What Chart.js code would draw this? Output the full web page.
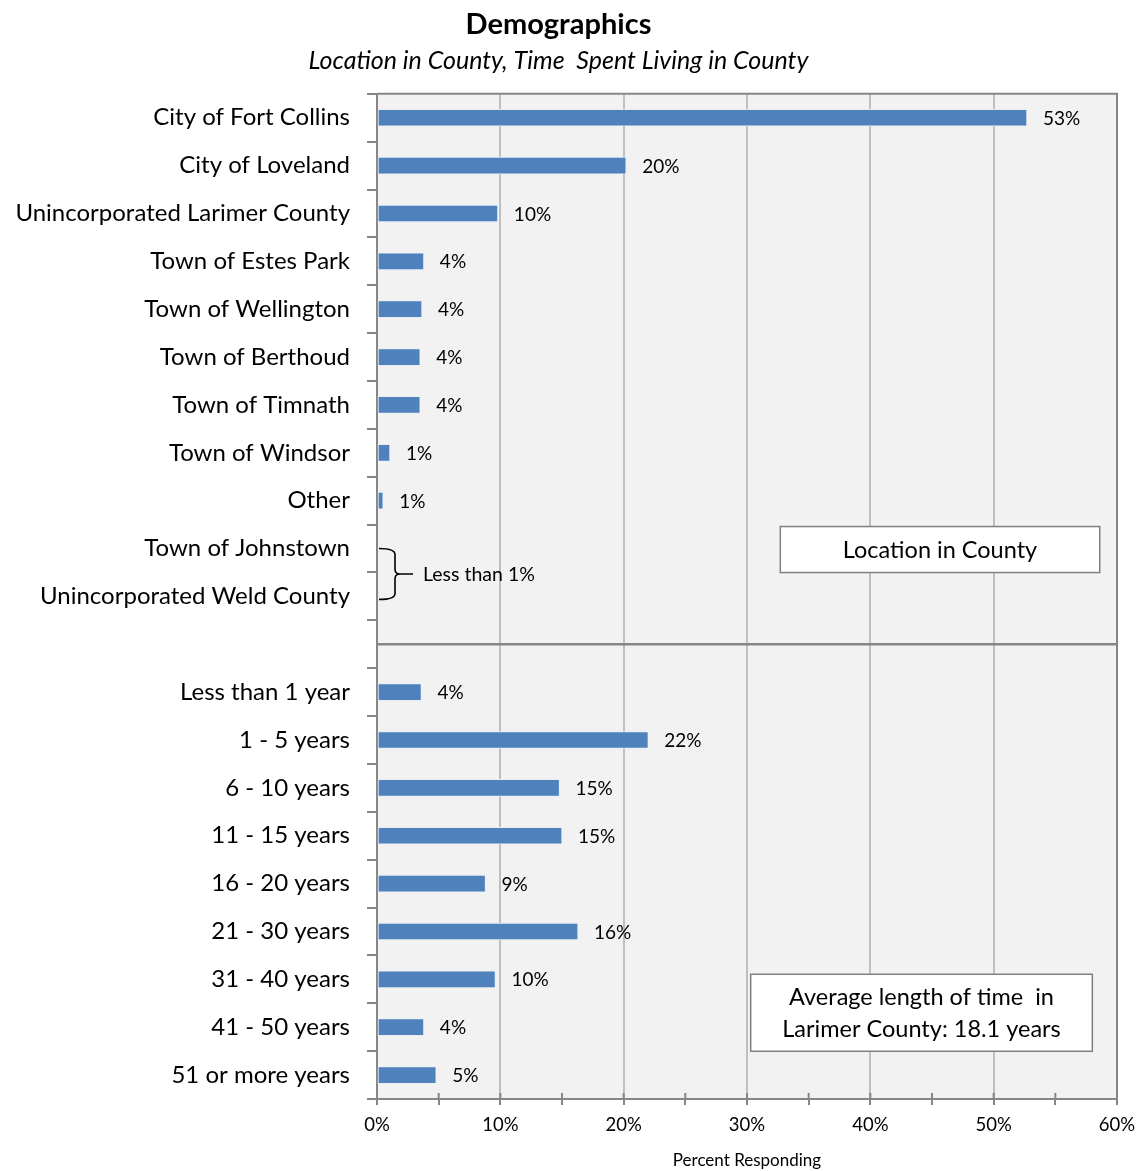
<!DOCTYPE html>
<html>
<head>
<meta charset="utf-8">
<script src="https://cdn.jsdelivr.net/npm/chart.js@4"></script>
<style>
  html, body { margin: 0; padding: 0; background: #fff; }
  #wrap { width: 1147px; height: 1171px; }
</style>
</head>
<body>
<div id="wrap"><canvas id="chart"></canvas></div>
<script>
const locations = ['City of Fort Collins', 'City of Loveland', 'Unincorporated Larimer County',
  'Town of Estes Park', 'Town of Wellington', 'Town of Berthoud', 'Town of Timnath',
  'Town of Windsor', 'Other', 'Town of Johnstown', 'Unincorporated Weld County'];
const locationValues = [52.7, 20.2, 9.8, 3.8, 3.65, 3.5, 3.5, 1.05, 0.5, null, null];

const durations = ['Less than 1 year', '1 - 5 years', '6 - 10 years', '11 - 15 years',
  '16 - 20 years', '21 - 30 years', '31 - 40 years', '41 - 50 years', '51 or more years'];
const durationValues = [3.6, 22.0, 14.8, 15.0, 8.8, 16.3, 9.6, 3.8, 4.8];

const xTickValues = [0, 10, 20, 30, 40, 50, 60];

// one blank row between the two groups
const labels = [...locations, '', ...durations];
const values = [...locationValues, null, ...durationValues];
const gapIndex = locations.length;

const FONT = 'Lato, "Open Sans", sans-serif';
const AXIS = '#868686';

const decorations = {
  id: 'decorations',
  beforeDraw(chart) {
    const { ctx, chartArea: a } = chart;
    ctx.save();
    ctx.fillStyle = '#f2f2f2';
    ctx.fillRect(a.left, a.top, a.right - a.left, a.bottom - a.top);
    ctx.restore();
  },
  afterDatasetsDraw(chart) {
    const { ctx } = chart;
    const meta = chart.getDatasetMeta(0);
    ctx.save();
    ctx.font = '19px ' + FONT;
    ctx.fillStyle = '#000';
    ctx.textAlign = 'left';
    ctx.textBaseline = 'middle';
    meta.data.forEach((bar, i) => {
      const v = values[i];
      if (v == null) return;
      ctx.fillText(Math.round(v) + '%', bar.x + 16, bar.y + 1);
    });
    ctx.restore();
  },
  afterDraw(chart) {
    const { ctx, chartArea: a } = chart;
    const xs = chart.scales.x, ys = chart.scales.y;
    ctx.save();

    // top + right frame
    ctx.strokeStyle = AXIS;
    ctx.lineWidth = 2;
    ctx.beginPath();
    ctx.moveTo(a.left, a.top);
    ctx.lineTo(a.right, a.top);
    ctx.lineTo(a.right, a.bottom);
    ctx.stroke();

    // separator in the blank row
    const sy = ys.getPixelForValue(gapIndex);
    ctx.lineWidth = 2.5;
    ctx.beginPath();
    ctx.moveTo(a.left, sy);
    ctx.lineTo(a.right, sy);
    ctx.stroke();

    // inner part of x ticks
    ctx.lineWidth = 2;
    xs.ticks.forEach(t => {
      const px = xs.getPixelForValue(t.value);
      ctx.beginPath();
      ctx.moveTo(px, a.bottom - 6);
      ctx.lineTo(px, a.bottom);
      ctx.stroke();
    });

    // bracket for the rows with less than 1%
    const small = locationValues.map((v, i) => v == null ? i : -1).filter(i => i >= 0);
    const top = ys.getPixelForValue(small[0]);
    const bot = ys.getPixelForValue(small[small.length - 1]) + 3;
    const mid = (top + bot) / 2;
    const x0 = a.left + 2, x1 = x0 + 16, x2 = x0 + 21;
    ctx.strokeStyle = '#000';
    ctx.lineWidth = 1.6;
    ctx.beginPath();
    ctx.moveTo(x0, top);
    ctx.quadraticCurveTo(x1, top, x1, top + 6);
    ctx.lineTo(x1, mid - 5);
    ctx.quadraticCurveTo(x1, mid, x2, mid);
    ctx.quadraticCurveTo(x1, mid, x1, mid + 5);
    ctx.lineTo(x1, bot - 6);
    ctx.quadraticCurveTo(x1, bot, x0, bot);
    ctx.moveTo(x2, mid);
    ctx.lineTo(x0 + 34, mid);
    ctx.stroke();
    ctx.fillStyle = '#000';
    ctx.font = '19.5px ' + FONT;
    ctx.textAlign = 'left';
    ctx.textBaseline = 'middle';
    ctx.fillText('Less than 1%', x0 + 44, mid + 1);

    // text boxes
    function box(v0, v1, cy, h, lines) {
      const l = xs.getPixelForValue(v0), r = xs.getPixelForValue(v1);
      ctx.fillStyle = '#fff';
      ctx.fillRect(l, cy - h / 2, r - l, h);
      ctx.strokeStyle = '#808080';
      ctx.lineWidth = 1.5;
      ctx.strokeRect(l, cy - h / 2, r - l, h);
      ctx.fillStyle = '#000';
      ctx.font = '23.5px ' + FONT;
      ctx.textAlign = 'center';
      ctx.textBaseline = 'middle';
      const lh = 32;
      lines.forEach((s, k) => {
        ctx.fillText(s, (l + r) / 2, cy + 1 + (k - (lines.length - 1) / 2) * lh);
      });
    }
    box(32.7, 58.6, ys.getPixelForValue(small[0]) + 1, 46, ['Location in County']);
    const last = labels.length - 1;
    const by = (ys.getPixelForValue(last - 2) + ys.getPixelForValue(last - 1)) / 2 + 9.5;
    box(30.3, 58.0, by, 77, ['Average length of time  in', 'Larimer County: 18.1 years']);

    ctx.restore();
  }
};

new Chart(document.getElementById('chart'), {
  type: 'bar',
  data: {
    labels: labels,
    datasets: [{
      data: values,
      backgroundColor: '#4f81bd',
      borderColor: '#e9eef6',
      borderWidth: 1,
      borderSkipped: false,
      barThickness: 17
    }]
  },
  options: {
    indexAxis: 'y',
    responsive: true,
    maintainAspectRatio: false,
    animation: false,
    layout: { padding: { left: 0, right: 30, top: 0, bottom: 0 } },
    plugins: {
      legend: { display: false },
      tooltip: { enabled: false },
      title: {
        display: true,
        text: 'Demographics',
        color: '#000',
        font: { family: FONT, size: 29, weight: 'bold' },
        padding: { top: 7.6, bottom: 4 }
      },
      subtitle: {
        display: true,
        text: 'Location in County, Time  Spent Living in County',
        color: '#000',
        font: { family: FONT, size: 25, style: 'italic' },
        padding: { top: 0, bottom: 17.4 }
      }
    },
    scales: {
      x: {
        min: 0,
        max: 60,
        afterFit: s => { s.height = 72; },
        afterBuildTicks: s => {
          // major ticks every 10 plus minor marks halfway
          const t = [];
          xTickValues.forEach((v, i) => {
            t.push({ value: v });
            if (i < xTickValues.length - 1) t.push({ value: (v + xTickValues[i + 1]) / 2 });
          });
          s.ticks = t;
        },
        ticks: {
          color: '#000',
          font: { family: FONT, size: 18.5 },
          padding: 9,
          maxRotation: 0,
          autoSkip: false,
          callback: v => xTickValues.includes(v) ? v + '%' : ''
        },
        grid: {
          color: c => c.tick && xTickValues.includes(c.tick.value) ? '#bfbfbf' : 'rgba(0,0,0,0)',
          tickColor: AXIS,
          lineWidth: 2,
          tickLength: 6
        },
        border: { color: AXIS, width: 2 },
        title: {
          display: true,
          text: 'Percent Responding',
          color: '#000',
          font: { family: FONT, size: 17 },
          padding: { top: 4, bottom: 0 }
        }
      },
      y: {
        afterFit: s => { s.width = 377; },
        ticks: {
          color: '#000',
          font: { family: FONT, size: 24 },
          padding: 17,
          autoSkip: false
        },
        grid: {
          offset: true,
          drawOnChartArea: false,
          color: AXIS,
          lineWidth: 2,
          tickLength: 10
        },
        border: { color: AXIS, width: 2 }
      }
    }
  },
  plugins: [decorations]
});
</script>
</body>
</html>
